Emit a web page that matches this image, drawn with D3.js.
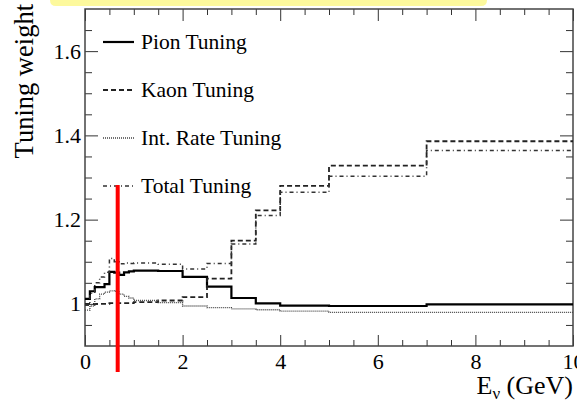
<!DOCTYPE html>
<html>
<head>
    <meta charset="utf-8">
    <style>
        body { margin: 0; background: #fff; }
        text { font-family: "Liberation Serif", "DejaVu Serif", serif; fill: #000; }
        .axis path.domain { display: none; }
        .axis line { stroke: #333; stroke-width: 1; }
        .axis text { font-size: 22px; }
        path.curve { fill: none; }
    </style>
</head>
<body>
<div id="chart"></div>
<script src="https://cdn.jsdelivr.net/npm/d3@7"></script>
<script>

    // bin edges in GeV and the weight in each bin
    var edges = [0, 0.1, 0.2, 0.3, 0.4, 0.5, 0.6, 0.7, 0.8, 0.9, 1.0, 1.5, 2.0, 2.5, 3.0, 3.5, 4.0, 5.0, 7.0, 10];
    var pion  = [1.012, 1.03, 1.04, 1.04, 1.047, 1.076, 1.074, 1.069, 1.075, 1.077, 1.079, 1.078, 1.064, 1.041, 1.014, 1.001, 0.996, 0.995, 0.999];
    var kaon  = [1.0, 1.0, 1.0, 1.0, 1.0, 1.002, 1.002, 1.002, 1.002, 1.002, 1.004, 1.008, 1.016, 1.06, 1.15, 1.222, 1.28, 1.328, 1.386];
    var rate  = [0.985, 0.995, 1.012, 1.023, 1.028, 1.031, 1.03, 1.023, 1.018, 1.014, 1.008, 1.003, 0.995, 0.991, 0.988, 0.986, 0.983, 0.98, 0.98];
    var total = [0.997, 1.025, 1.05, 1.064, 1.075, 1.108, 1.10, 1.095, 1.097, 1.096, 1.097, 1.094, 1.083, 1.096, 1.142, 1.21, 1.265, 1.303, 1.364];

    var xTicks = [0, 2, 4, 6, 8, 10];
    var yTicks = [1, 1.2, 1.4, 1.6];
    var legendNames = ["Pion Tuning", "Kaon Tuning", "Int. Rate Tuning", "Total Tuning"];
    var markerE = 0.67;   // red marker line

    var width = 577, height = 401;

    var svg = d3.select("#chart").append("svg")
        .attr("width", width)
        .attr("height", height);

    var x = d3.scaleLinear().domain([0, 10]).range([85, 573]);
    var y = d3.scaleLinear().domain([0.9, 1.7]).range([346, 9]);

    // yellow tab at the top
    svg.append("path")
        .attr("d", "M50,-10 H487 V0 Q487,6 481,6 H56 Q50,6 50,0 Z")
        .attr("fill", "#fdf99d");

    var minorX = d3.range(0, 10.01, 0.5).filter(function (d) { return d % 2 !== 0; });
    var minorY = d3.range(0.95, 1.7, 0.05).map(function (d) { return +d.toFixed(2); })
        .filter(function (d) { return yTicks.indexOf(d) < 0; });

    function yFmt(d) { return d === 1 ? "1" : d.toFixed(1); }

    // bottom + left with labels
    svg.append("g").attr("class", "axis")
        .attr("transform", "translate(0,346)")
        .call(d3.axisBottom(x).tickValues(xTicks).tickSize(-11).tickPadding(7).tickFormat(d3.format("d")));
    svg.append("g").attr("class", "axis")
        .attr("transform", "translate(0,346)")
        .call(d3.axisBottom(x).tickValues(minorX).tickSize(-6).tickFormat(""));
    svg.append("g").attr("class", "axis")
        .attr("transform", "translate(85,0)")
        .call(d3.axisLeft(y).tickValues(yTicks).tickSize(-13).tickPadding(4).tickFormat(yFmt));
    svg.append("g").attr("class", "axis")
        .attr("transform", "translate(85,0)")
        .call(d3.axisLeft(y).tickValues(minorY).tickSize(-7).tickFormat(""));

    // top + right, ticks only
    svg.append("g").attr("class", "axis")
        .attr("transform", "translate(0,9)")
        .call(d3.axisTop(x).tickValues(xTicks).tickSize(-12).tickFormat(""));
    svg.append("g").attr("class", "axis")
        .attr("transform", "translate(0,9)")
        .call(d3.axisTop(x).tickValues(minorX).tickSize(-6).tickFormat(""));
    svg.append("g").attr("class", "axis")
        .attr("transform", "translate(573,0)")
        .call(d3.axisRight(y).tickValues(yTicks).tickSize(-13).tickFormat(""));
    svg.append("g").attr("class", "axis")
        .attr("transform", "translate(573,0)")
        .call(d3.axisRight(y).tickValues(minorY).tickSize(-7).tickFormat(""));

    // frame
    svg.append("rect")
        .attr("x", 85).attr("y", 9)
        .attr("width", 573 - 85).attr("height", 346 - 9)
        .attr("fill", "none")
        .attr("stroke", "#444")
        .attr("stroke-width", 1.5);

    var series = [
        {values: pion,  color: "#000", width: 2.2, dash: null},
        {values: kaon,  color: "#222", width: 1.8, dash: "5,3"},
        {values: rate,  color: "#444", width: 1.3, dash: "1,1"},
        {values: total, color: "#333", width: 1.5, dash: "4,3,1,3"}
    ];

    var line = d3.line()
        .x(function (d) { return x(d[0]); })
        .y(function (d) { return y(d[1]); })
        .curve(d3.curveStepAfter);

    series.forEach(function (s) {
        var pts = s.values.map(function (v, i) { return [edges[i], v]; });
        pts.push([edges[edges.length - 1], s.values[s.values.length - 1]]);
        svg.append("path")
            .attr("class", "curve")
            .attr("d", line(pts))
            .attr("stroke", s.color)
            .attr("stroke-width", s.width)
            .attr("stroke-dasharray", s.dash);
    });

    // legend
    var legend = svg.append("g").attr("class", "legend");
    legendNames.forEach(function (name, i) {
        var ly = 42 + i * 48;
        var s = series[i];
        legend.append("line")
            .attr("x1", 103).attr("x2", 134)
            .attr("y1", ly).attr("y2", ly)
            .attr("stroke", s.color)
            .attr("stroke-width", s.width)
            .attr("stroke-dasharray", s.dash);
        legend.append("text")
            .attr("x", 141).attr("y", ly + 7)
            .style("font-size", "21.5px")
            .text(name);
    });

    // axis titles
    svg.append("text")
        .attr("transform", "translate(33,4) rotate(-90)")
        .attr("text-anchor", "end")
        .style("font-size", "26.5px")
        .text("Tuning weight");

    var xt = svg.append("text")
        .attr("x", 573).attr("y", 394)
        .attr("text-anchor", "end")
        .style("font-size", "26px");
    xt.append("tspan").text("E");
    xt.append("tspan").attr("dy", 5).style("font-size", "17px").text("ν");
    xt.append("tspan").attr("dy", -5).text(" (GeV)");

    // red marker
    svg.append("line")
        .attr("x1", x(markerE)).attr("x2", x(markerE))
        .attr("y1", 185).attr("y2", 372)
        .attr("stroke", "#f00")
        .attr("stroke-width", 4);

</script>
</body>
</html>
